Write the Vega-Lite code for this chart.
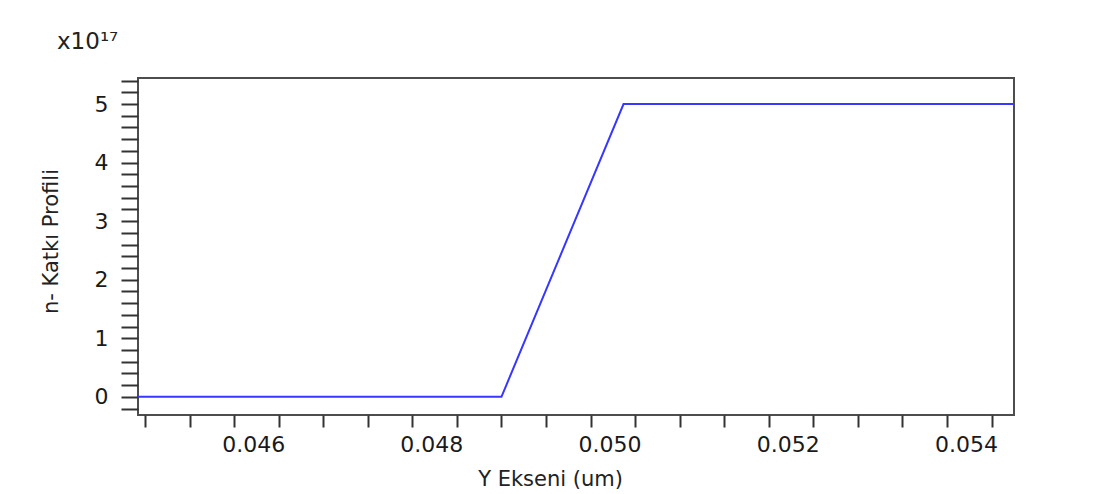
{
  "$schema": "https://vega.github.io/schema/vega-lite/v6.json",
  "width": 876,
  "height": 337,
  "autosize": {"type": "none"},
  "padding": {"left": 138, "top": 78, "right": 101, "bottom": 79},
  "background": "white",
  "title": {
    "text": "x10¹⁷",
    "anchor": "start",
    "frame": "group",
    "dx": -81,
    "offset": -2,
    "baseline": "alphabetic",
    "font": "DejaVu Sans",
    "fontSize": 23,
    "fontWeight": "normal",
    "color": "#222222"
  },
  "config": {
    "view": {"stroke": "#4d4d4d", "strokeWidth": 2}
  },
  "data": {
    "values": [
      {"position": 0.0449, "doping": 0},
      {"position": 0.049, "doping": 0},
      {"position": 0.05037, "doping": 5},
      {"position": 0.0548, "doping": 5}
    ]
  },
  "mark": {"type": "line", "color": "#3737ff", "strokeWidth": 2, "clip": true},
  "encoding": {
    "x": {
      "field": "position",
      "type": "quantitative",
      "scale": {"domain": [0.044921, 0.054752], "nice": false, "zero": false},
      "axis": {
        "title": "Y Ekseni (um)",
        "values": [0.045, 0.0455, 0.046, 0.0465, 0.047, 0.0475, 0.048, 0.0485, 0.049, 0.0495, 0.05, 0.0505, 0.051, 0.0515, 0.052, 0.0525, 0.053, 0.0535, 0.054, 0.0545],
        "domain": false,
        "grid": false,
        "tickSize": 12,
        "tickWidth": 2,
        "tickColor": "#333333",
        "labelExpr": "abs(datum.value * 500 - round(datum.value * 500)) < 1e-6 ? format(datum.value, '.3f') : ''",
        "labelFont": "DejaVu Sans",
        "labelFontSize": 22,
        "labelColor": "#1a1a1a",
        "labelBaseline": "alphabetic",
        "labelPadding": 24,
        "labelOffset": 19,
        "labelFlush": false,
        "labelOverlap": false,
        "labelBound": false,
        "titleFont": "DejaVu Sans",
        "titleFontSize": 21,
        "titleFontWeight": "normal",
        "titleColor": "#222222",
        "titleX": 412,
        "titleY": 70,
        "titleBaseline": "alphabetic",
        "titleAlign": "center",
        "encode": {
          "ticks": {
            "update": {
              "y2": {"signal": "abs(datum.value * 1000 - round(datum.value * 1000)) < 1e-6 ? 12 : 6"}
            }
          }
        }
      }
    },
    "y": {
      "field": "doping",
      "type": "quantitative",
      "scale": {"domain": [-0.31, 5.445], "nice": false, "zero": false},
      "axis": {
        "title": "n- Katkı Profili",
        "values": [-0.2, 0, 0.2, 0.4, 0.6, 0.8, 1, 1.2, 1.4, 1.6, 1.8, 2, 2.2, 2.4, 2.6, 2.8, 3, 3.2, 3.4, 3.6, 3.8, 4, 4.2, 4.4, 4.6, 4.8, 5, 5.2, 5.4],
        "domain": false,
        "grid": false,
        "tickSize": 17,
        "tickWidth": 2,
        "tickColor": "#333333",
        "labelExpr": "abs(datum.value - round(datum.value)) < 1e-6 ? format(datum.value, 'd') : ''",
        "labelFont": "DejaVu Sans",
        "labelFontSize": 22,
        "labelColor": "#1a1a1a",
        "labelPadding": 13,
        "labelBaseline": "middle",
        "labelFlush": false,
        "labelOverlap": false,
        "labelBound": false,
        "titleFont": "DejaVu Sans",
        "titleFontSize": 21,
        "titleFontWeight": "normal",
        "titleColor": "#222222",
        "titleAngle": -90,
        "titleX": -87,
        "titleY": 163,
        "titleBaseline": "middle",
        "titleAlign": "center",
        "encode": {
          "ticks": {
            "update": {
              "x2": {"signal": "abs(datum.value - round(datum.value)) < 1e-6 ? -17 : -10"}
            }
          }
        }
      }
    }
  }
}
